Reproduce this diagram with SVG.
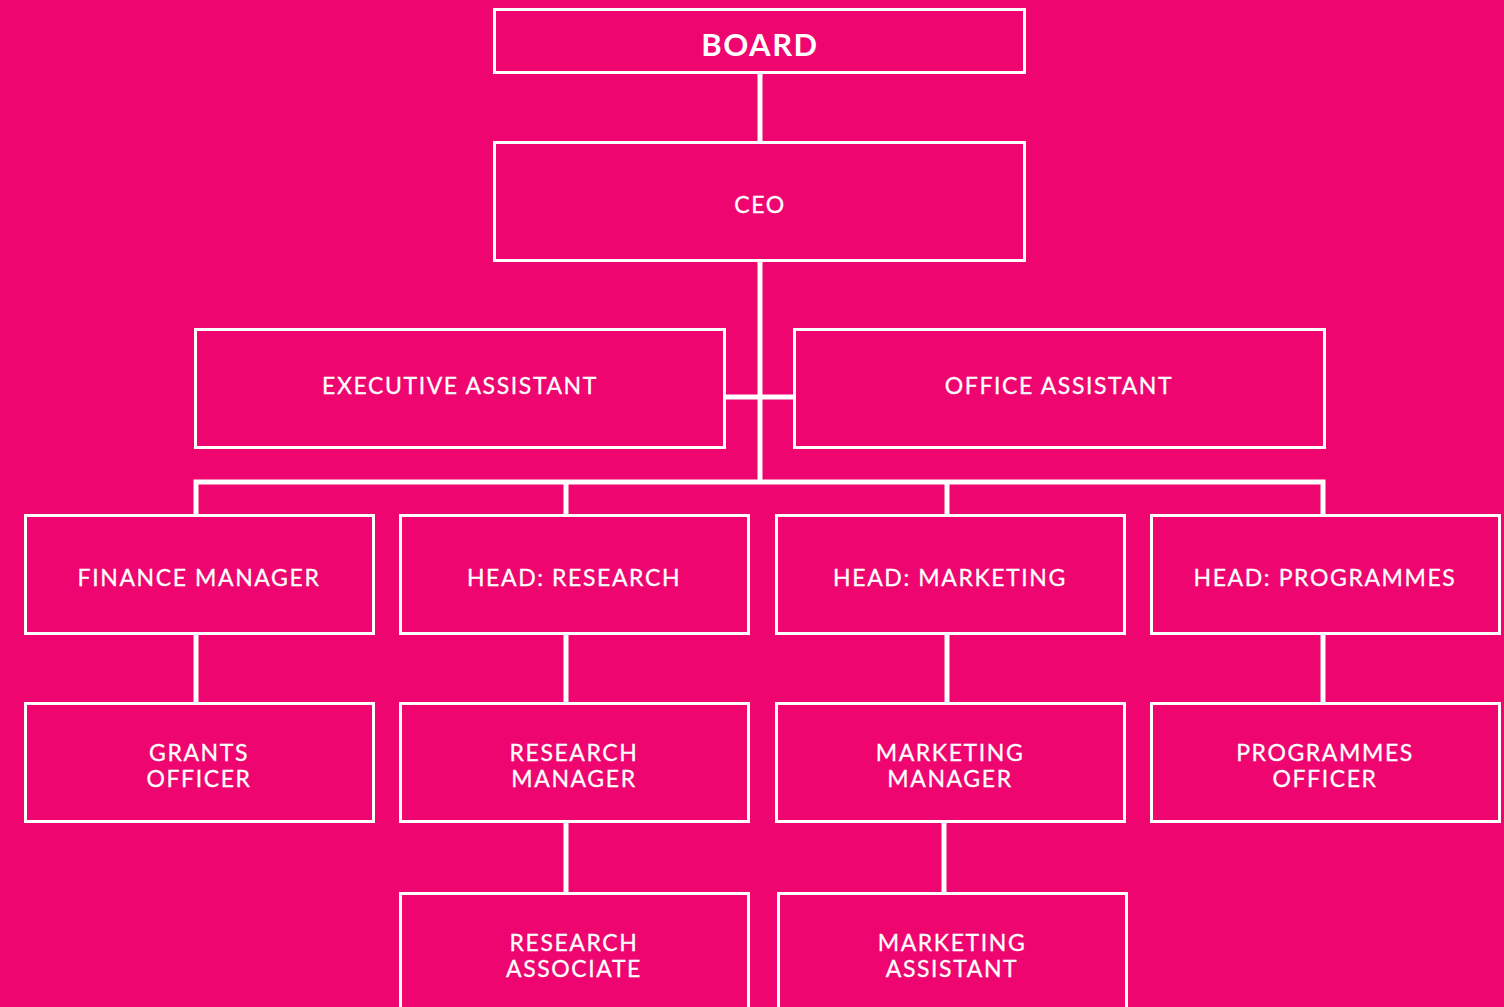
<svg xmlns="http://www.w3.org/2000/svg" width="1504" height="1007" viewBox="0 0 1504 1007">
  <style>
    .box { fill: #EE0570; stroke: #FFFFFF; stroke-width: 3; }
    .lbl { fill: #FFFFFF; font-family: Lato, "Liberation Sans", sans-serif; font-size: 23px; letter-spacing: 1.6px; text-anchor: middle; stroke: #FFFFFF; stroke-width: 0.3; }
    .title { font-size: 31px; font-weight: bold; letter-spacing: 1.5px; stroke-width: 0; }
    .wire { stroke: #FFFFFF; stroke-width: 5; fill: none; }
  </style>
  <rect width="1504" height="1007" fill="#EE0570"/>

  <g id="connectors">
    <line class="wire" x1="760" y1="73" x2="760" y2="142"/>
    <line class="wire" x1="760" y1="260" x2="760" y2="482"/>
    <line class="wire" x1="724" y1="397" x2="794" y2="397"/>
    <polyline class="wire" points="196,515 196,482 1323,482 1323,515"/>
    <line class="wire" x1="566" y1="482" x2="566" y2="515"/>
    <line class="wire" x1="947" y1="482" x2="947" y2="515"/>
    <line class="wire" x1="196" y1="633" x2="196" y2="703"/>
    <line class="wire" x1="566" y1="633" x2="566" y2="703"/>
    <line class="wire" x1="947" y1="633" x2="947" y2="703"/>
    <line class="wire" x1="1323" y1="633" x2="1323" y2="703"/>
    <line class="wire" x1="566" y1="821" x2="566" y2="893"/>
    <line class="wire" x1="944" y1="821" x2="944" y2="893"/>
  </g>

  <g id="board">
    <rect class="box" x="494.5" y="9.5" width="530" height="63"/>
    <text class="lbl title" x="760" y="56">BOARD</text>
  </g>
  <g id="ceo">
    <rect class="box" x="494.5" y="142.5" width="530" height="118"/>
    <text class="lbl" x="760" y="213">CEO</text>
  </g>
  <g id="executive-assistant">
    <rect class="box" x="195.5" y="329.5" width="529" height="118"/>
    <text class="lbl" x="460" y="394">EXECUTIVE ASSISTANT</text>
  </g>
  <g id="office-assistant">
    <rect class="box" x="794.5" y="329.5" width="530" height="118"/>
    <text class="lbl" x="1059" y="394">OFFICE ASSISTANT</text>
  </g>

  <g id="finance-manager">
    <rect class="box" x="25.5" y="515.5" width="348" height="118"/>
    <text class="lbl" x="199" y="586">FINANCE MANAGER</text>
  </g>
  <g id="head-research">
    <rect class="box" x="400.5" y="515.5" width="348" height="118"/>
    <text class="lbl" x="574" y="586">HEAD: RESEARCH</text>
  </g>
  <g id="head-marketing">
    <rect class="box" x="776.5" y="515.5" width="348" height="118"/>
    <text class="lbl" x="950" y="586">HEAD: MARKETING</text>
  </g>
  <g id="head-programmes">
    <rect class="box" x="1151.5" y="515.5" width="348" height="118"/>
    <text class="lbl" x="1325" y="586">HEAD: PROGRAMMES</text>
  </g>

  <g id="grants-officer">
    <rect class="box" x="25.5" y="703.5" width="348" height="118"/>
    <text class="lbl" x="199" y="761">GRANTS</text>
    <text class="lbl" x="199" y="787">OFFICER</text>
  </g>
  <g id="research-manager">
    <rect class="box" x="400.5" y="703.5" width="348" height="118"/>
    <text class="lbl" x="574" y="761">RESEARCH</text>
    <text class="lbl" x="574" y="787">MANAGER</text>
  </g>
  <g id="marketing-manager">
    <rect class="box" x="776.5" y="703.5" width="348" height="118"/>
    <text class="lbl" x="950" y="761">MARKETING</text>
    <text class="lbl" x="950" y="787">MANAGER</text>
  </g>
  <g id="programmes-officer">
    <rect class="box" x="1151.5" y="703.5" width="348" height="118"/>
    <text class="lbl" x="1325" y="761">PROGRAMMES</text>
    <text class="lbl" x="1325" y="787">OFFICER</text>
  </g>

  <g id="research-associate">
    <rect class="box" x="400.5" y="893.5" width="348" height="130"/>
    <text class="lbl" x="574" y="951">RESEARCH</text>
    <text class="lbl" x="574" y="977">ASSOCIATE</text>
  </g>
  <g id="marketing-assistant">
    <rect class="box" x="778.5" y="893.5" width="348" height="130"/>
    <text class="lbl" x="952" y="951">MARKETING</text>
    <text class="lbl" x="952" y="977">ASSISTANT</text>
  </g>
</svg>
